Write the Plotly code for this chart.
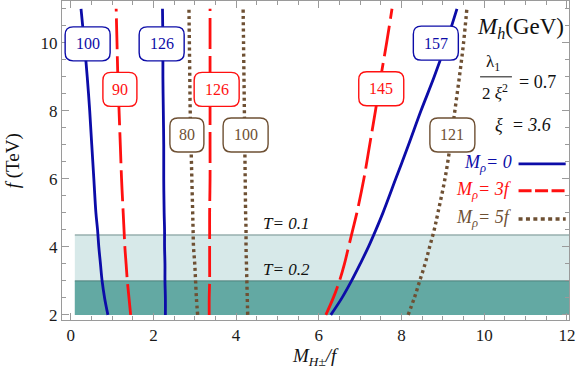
import plotly.graph_objects as go

SERIF = "Liberation Serif"

BLUE = "#0c0ca8"
RED = "#ff1010"
BROWN = "#6e5033"

# f (TeV) grid along which the contour x-positions were read
F_TEV = [2, 2.5, 3, 3.5, 4, 4.5, 5, 6, 7, 8, 9, 10, 11]

# M_rho = 0  (solid)
X_R0_100 = [0.90, 0.82, 0.76, 0.72, 0.68, 0.65, 0.61, 0.56, 0.51, 0.46, 0.40, 0.33, 0.25]
X_R0_126 = [2.29, 2.29, 2.28, 2.28, 2.27, 2.27, 2.26, 2.25, 2.25, 2.24, 2.23, 2.23, 2.22]
X_R0_157 = [6.29, 6.56, 6.79, 7.00, 7.20, 7.38, 7.55, 7.86, 8.17, 8.47, 8.79, 9.08, 9.34]

# M_rho = 3f  (dashed)
X_R3_90 = [1.45, 1.41, 1.37, 1.34, 1.31, 1.29, 1.27, 1.23, 1.20, 1.17, 1.14, 1.12, 1.10]
X_R3_126 = [3.35, 3.35, 3.36, 3.36, 3.36, 3.36, 3.36, 3.37, 3.37, 3.37, 3.37, 3.37, 3.37]
X_R3_145 = [6.17, 6.35, 6.50, 6.62, 6.72, 6.82, 6.92, 7.09, 7.23, 7.37, 7.50, 7.64, 7.77]

# M_rho = 5f  (dotted)
X_R5_80 = [3.07, 3.04, 3.02, 3.00, 2.97, 2.96, 2.95, 2.93, 2.91, 2.89, 2.88, 2.87, 2.86]
X_R5_100 = [4.28, 4.27, 4.26, 4.25, 4.24, 4.24, 4.23, 4.22, 4.21, 4.20, 4.19, 4.18, 4.17]
X_R5_121 = [8.16, 8.31, 8.44, 8.57, 8.68, 8.79, 8.88, 9.05, 9.18, 9.29, 9.40, 9.50, 9.58]

# contour labels (M_h in GeV) and where they sit
LABEL_MH = ["100", "126", "157", "90", "126", "145", "80", "100", "121"]
LABEL_X = [0.41, 2.20, 8.83, 1.19, 3.53, 7.51, 2.81, 4.23, 9.23]
LABEL_Y = [9.97, 9.97, 9.99, 8.63, 8.63, 8.65, 7.29, 7.29, 7.29]

# T-parameter bands: upper f limit
T_VALUES = ["0.1", "0.2"]
T_F_MAX = [4.35, 3.0]

STYLES = {
    "0": dict(color=BLUE, width=2.8, dash="solid"),
    "3f": dict(color=RED, width=2.8, dash="31px,7px"),
    "5f": dict(color=BROWN, width=3.4, dash="3px,3.3px"),
}
CURVES = [
    ("0", X_R0_100), ("0", X_R0_126), ("0", X_R0_157),
    ("3f", X_R3_90), ("3f", X_R3_126), ("3f", X_R3_145),
    ("5f", X_R5_80), ("5f", X_R5_100), ("5f", X_R5_121),
]

X_RANGE = [-0.21, 12.05]
Y_RANGE = [1.85, 11.23]


def rounded_box(w, h, r=8):
    return (f"M {-w + r},{-h} L {w - r},{-h} Q {w},{-h} {w},{-h + r} "
            f"L {w},{h - r} Q {w},{h} {w - r},{h} L {-w + r},{h} "
            f"Q {-w},{h} {-w},{h - r} L {-w},{-h + r} Q {-w},{-h} {-w + r},{-h} Z")


fig = go.Figure()

for rho, xs in CURVES:
    st = STYLES[rho]
    fig.add_trace(go.Scatter(
        x=xs, y=F_TEV, mode="lines", line_shape="spline",
        line=dict(color=st["color"], width=st["width"], dash=st["dash"]),
        showlegend=False, hoverinfo="skip",
    ))

shapes = []
annotations = []

# T bands (widest first)
band_fill = ["#d7e9e9", "#63a9a3"]
band_edge = ["#6f8e8c", "#4d7f7a"]
for i, fmax in enumerate(T_F_MAX):
    shapes.append(dict(type="rect", xref="x", yref="y", x0=0.1, x1=X_RANGE[1],
                       y0=2, y1=fmax, fillcolor=band_fill[i], line_width=0, layer="below"))
    shapes.append(dict(type="line", xref="x", yref="y", x0=0.1, x1=X_RANGE[1],
                       y0=fmax, y1=fmax, line=dict(color=band_edge[i], width=1), layer="below"))
    annotations.append(dict(x=5.21, y=fmax + 0.33, xref="x", yref="y", showarrow=False,
                            text=f"<i>T= {T_VALUES[i]}</i>",
                            font=dict(family=SERIF, size=17, color="#111")))

# contour labels in rounded boxes
label_colors = [BLUE] * 3 + [RED] * 3 + [BROWN] * 3
for txt, lx, ly, c in zip(LABEL_MH, LABEL_X, LABEL_Y, label_colors):
    hw = 22.5 if len(txt) == 3 else 17
    shapes.append(dict(type="path", path=rounded_box(hw, 17), xsizemode="pixel",
                       ysizemode="pixel", xanchor=lx, yanchor=ly, xref="x", yref="y",
                       fillcolor="white", line=dict(color=c, width=1.4), layer="above"))
    annotations.append(dict(x=lx, y=ly, xref="x", yref="y", text=txt, showarrow=False,
                            font=dict(family=SERIF, size=16, color=c)))

# legend on the right (text, then line sample)
legend_y = [6.44, 5.65, 4.82]
legend_txt = ["<i>M</i><sub><i>ρ</i></sub><i>= 0</i>",
              "<i>M</i><sub><i>ρ</i></sub><i>= 3f</i>",
              "<i>M</i><sub><i>ρ</i></sub><i>= 5f</i>"]
legend_dash = ["solid", "13px,3.5px", "4px,3.4px"]
for (rho, ly, txt, dsh) in zip(["0", "3f", "5f"], legend_y, legend_txt, legend_dash):
    st = STYLES[rho]
    annotations.append(dict(x=10.73, y=ly, xref="x", yref="y", xanchor="right",
                            text=txt, showarrow=False,
                            font=dict(family=SERIF, size=18, color=st["color"])))
    shapes.append(dict(type="line", xref="x", yref="y", x0=10.83, x1=11.97, y0=ly, y1=ly,
                       line=dict(color=st["color"], width=st["width"], dash=dsh)))

# parameter box text
params = [
    dict(x=10.87, y=10.44, text="<i>M</i><sub><i>h</i></sub>(GeV)", size=23),
    dict(x=10.21, y=9.41, text="λ<sub>1</sub>", size=17),
    dict(x=10.26, y=8.56, text="2 <i>ξ</i><sup>2</sup>", size=17),
    dict(x=11.30, y=8.85, text="= 0.7", size=18),
    dict(x=10.94, y=7.59, text="<i>ξ  = 3.6</i>", size=18),
]
for p in params:
    annotations.append(dict(x=p["x"], y=p["y"], xref="x", yref="y", showarrow=False,
                            text=p["text"],
                            font=dict(family=SERIF, size=p["size"], color="#111")))
shapes.append(dict(type="line", xref="x", yref="y", x0=9.90, x1=10.67, y0=9.0, y1=9.0,
                   line=dict(color="#111", width=1)))

# axis titles
annotations.append(dict(x=0.5, y=-0.116, xref="paper", yref="paper", showarrow=False,
                        xanchor="center", yanchor="middle",
                        text="<i>M</i><sub><i>H</i>±</sub><i>/f</i>",
                        font=dict(family=SERIF, size=19, color="#111")))
annotations.append(dict(x=-0.097, y=0.5, xref="paper", yref="paper", showarrow=False,
                        xanchor="center", yanchor="middle",
                        text="<i>f</i> (TeV)", textangle=-90,
                        font=dict(family=SERIF, size=19, color="#111")))

axis_common = dict(
    showline=True, linecolor="#9a9a9a", linewidth=1, mirror="ticks",
    ticks="inside", ticklen=7, tickcolor="#9a9a9a", tickwidth=1,
    showgrid=False, zeroline=False, automargin=False, ticklabeloverflow="allow",
    tickfont=dict(family=SERIF, size=17, color="#1a1a1a"),
    minor=dict(dtick=0.5, ticks="inside", ticklen=4, tickcolor="#9a9a9a", showgrid=False),
)

fig.update_xaxes(**axis_common, range=X_RANGE, tickvals=[0, 2, 4, 6, 8, 10, 12])
fig.update_yaxes(**axis_common, range=Y_RANGE, tickvals=[2, 4, 6, 8, 10])

fig.update_layout(
    width=578, height=382,
    margin=dict(l=62, r=9, t=1, b=62),
    paper_bgcolor="white", plot_bgcolor="white",
    font=dict(family=SERIF),
    shapes=shapes, annotations=annotations,
    showlegend=False,
)

fig.write_html("out.html", config={"displayModeBar": False},
               post_script="document.body.style.margin='0';")
